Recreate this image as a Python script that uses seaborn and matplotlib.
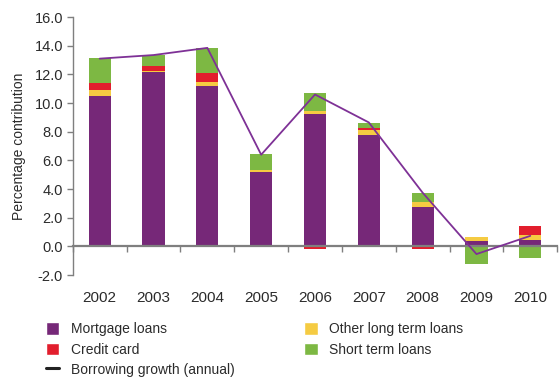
import numpy as np
import pandas as pd
import matplotlib
matplotlib.use("Agg")
import matplotlib.pyplot as plt
from matplotlib.patches import Patch
from matplotlib.lines import Line2D
import seaborn as sns

years = ["2002", "2003", "2004", "2005", "2006", "2007", "2008", "2009", "2010"]
mortgage = [10.5, 12.15, 11.2, 5.2, 9.25, 7.8, 2.75, 0.4, 0.45]
other_long = [0.4, 0.08, 0.28, 0.14, 0.2, 0.35, 0.35, 0.28, 0.35]
credit_card = [0.5, 0.35, 0.62, -0.05, -0.15, 0.14, -0.15, -0.05, 0.63]
short_term = [1.75, 0.77, 1.74, 1.11, 1.26, 0.35, 0.63, -1.18, -0.77]
growth = [13.1, 13.35, 13.85, 6.4, 10.6, 8.65, 3.75, -0.53, 0.74]

series_names = ["Mortgage loans", "Other long term loans", "Credit card", "Short term loans"]
series_values = [mortgage, other_long, credit_card, short_term]
colors = {
    "Mortgage loans": "#762878",
    "Other long term loans": "#F5CB42",
    "Credit card": "#E21E2D",
    "Short term loans": "#7DB843",
}
line_color = "#7E3196"
text_color = "#2b2b2b"
axis_color = "#7f7f7f"

sns.set_theme(style="white")
plt.rcParams["font.family"] = ["Liberation Sans", "DejaVu Sans"]

fig = plt.figure(figsize=(5.6, 3.79), dpi=100)
ax = fig.add_axes([0.130, 0.274, 0.865, 0.681])

x = np.arange(len(years))
pos_base = np.zeros(len(years))
neg_base = np.zeros(len(years))
for name, vals in zip(series_names, series_values):
    vals = np.asarray(vals, dtype=float)
    base = np.where(vals >= 0, pos_base, neg_base)
    ax.bar(x, vals, bottom=base, width=0.41, color=colors[name],
           linewidth=0, zorder=2)
    pos_base += np.where(vals >= 0, vals, 0)
    neg_base += np.where(vals < 0, vals, 0)

df_line = pd.DataFrame({"pos": x, "growth": growth})
sns.lineplot(data=df_line, x="pos", y="growth", ax=ax, color=line_color,
             linewidth=1.3, zorder=4, legend=False)

ax.set_xlim(-0.5, len(years) - 0.5)
ax.set_ylim(-2.0, 16.0)
ax.set_yticks(np.arange(-2, 16.1, 2))
ax.set_yticklabels([f"{v:.1f}" for v in np.arange(-2, 16.1, 2)])

# zero line carries the category boundary ticks; year labels sit below the plot
for side in ["top", "right"]:
    ax.spines[side].set_visible(False)
ax.spines["bottom"].set_position(("data", 0))
ax.spines["bottom"].set_color(axis_color)
ax.spines["bottom"].set_linewidth(1.6)
ax.spines["bottom"].set_zorder(3)
ax.spines["left"].set_color(axis_color)
ax.spines["left"].set_linewidth(1.0)

ax.set_xticks(x)
ax.set_xticklabels(years)
ax.set_xticks(np.arange(-0.5, len(years), 1.0), minor=True)
ax.tick_params(axis="x", which="major", length=0, pad=32,
               labelsize=11, labelcolor=text_color)
ax.tick_params(axis="x", which="minor", length=4, width=1.0,
               direction="out", color=axis_color, bottom=True)
ax.tick_params(axis="y", length=4, width=1.0, direction="out", left=True,
               color=axis_color, labelsize=10.5, labelcolor=text_color, pad=3)

ax.set_xlabel("")
ax.set_ylabel("Percentage contribution", fontsize=10, color=text_color, labelpad=6)
ax.grid(False)

handles = [
    Patch(facecolor=colors["Mortgage loans"], label="Mortgage loans"),
    Patch(facecolor=colors["Credit card"], label="Credit card"),
    Line2D([0], [0], color="#222222", linewidth=2.2, label="Borrowing growth (annual)"),
    Patch(facecolor=colors["Other long term loans"], label="Other long term loans"),
    Patch(facecolor=colors["Short term loans"], label="Short term loans"),
]
fig.legend(handles=handles, loc="upper left", bbox_to_anchor=(0.069, 0.168),
           ncol=2, frameon=False, fontsize=10, handlelength=1.0, handleheight=1.0,
           handletextpad=0.8, columnspacing=5.0, labelspacing=0.45, borderpad=0,
           labelcolor=text_color)

fig.savefig("out.png", dpi=100)
